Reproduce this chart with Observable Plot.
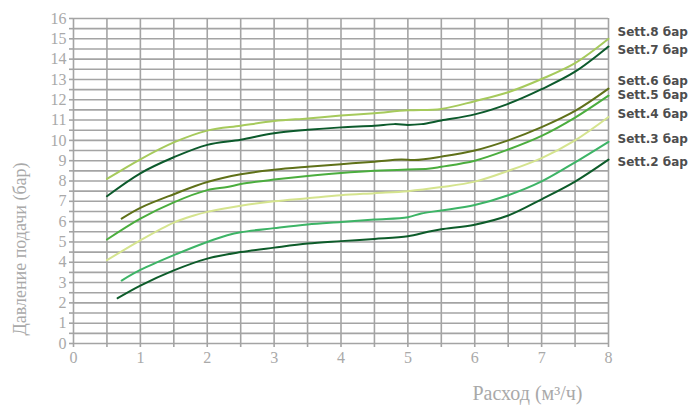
<!DOCTYPE html>
<html>
<head>
<meta charset="utf-8">
<script src="https://cdn.jsdelivr.net/npm/d3@7"></script>
<script src="https://cdn.jsdelivr.net/npm/@observablehq/plot@0.6"></script>
<style>
  html, body { margin: 0; padding: 0; background: #fff; }
</style>
</head>
<body>
<div id="chart"></div>
<script>
// ---- Data ----
const seriesNames = ["Sett.8 бар", "Sett.7 бар", "Sett.6 бар", "Sett.5 бар", "Sett.4 бар", "Sett.3 бар", "Sett.2 бар"];
const seriesColors = ["#a6ca5c", "#0c5a2c", "#5f7119", "#4bad3e", "#d5e48e", "#3db466", "#0d5c2a"];

const sett8X = [0.5, 1, 1.5, 2, 2.5, 3, 3.5, 4, 4.5, 5, 5.5, 6, 6.5, 7, 7.5, 8];
const sett8Y = [8.1, 9.07, 9.9, 10.48, 10.72, 10.95, 11.08, 11.22, 11.34, 11.48, 11.55, 11.93, 12.37, 13.02, 13.8, 15.0];

const sett7X = [0.5, 1, 1.5, 2, 2.5, 3, 3.5, 4, 4.5, 4.8, 5.0, 5.2, 5.5, 6, 6.5, 7, 7.5, 8];
const sett7Y = [7.25, 8.38, 9.17, 9.78, 10.03, 10.35, 10.52, 10.64, 10.72, 10.8, 10.76, 10.8, 10.98, 11.28, 11.8, 12.52, 13.38, 14.62];

const sett6X = [0.72, 1, 1.5, 2, 2.5, 3, 3.5, 4, 4.5, 4.9, 5.1, 5.5, 6, 6.5, 7, 7.5, 8];
const sett6Y = [6.15, 6.68, 7.35, 7.95, 8.33, 8.55, 8.7, 8.83, 8.95, 9.06, 9.03, 9.2, 9.5, 10.0, 10.65, 11.45, 12.55];

const sett5X = [0.5, 1, 1.5, 2, 2.3, 2.5, 3, 3.5, 4, 4.5, 5, 5.3, 5.5, 6, 6.5, 7, 7.5, 8];
const sett5Y = [5.12, 6.15, 6.95, 7.55, 7.7, 7.85, 8.07, 8.25, 8.39, 8.5, 8.57, 8.6, 8.7, 9.0, 9.55, 10.22, 11.12, 12.2];

const sett4X = [0.5, 1, 1.5, 1.8, 2, 2.5, 3, 3.5, 4, 4.5, 5, 5.5, 6, 6.5, 7, 7.5, 8];
const sett4Y = [4.1, 5.08, 5.95, 6.3, 6.48, 6.78, 7.0, 7.15, 7.3, 7.4, 7.5, 7.7, 7.97, 8.5, 9.13, 10.0, 11.15];

const sett3X = [0.72, 1, 1.5, 2, 2.3, 2.5, 3, 3.5, 4, 4.5, 5, 5.2, 5.5, 6, 6.5, 7, 7.5, 8];
const sett3Y = [3.1, 3.62, 4.35, 5.0, 5.33, 5.48, 5.68, 5.86, 5.98, 6.1, 6.22, 6.4, 6.55, 6.82, 7.3, 7.98, 8.92, 9.93];

const sett2X = [0.66, 1, 1.5, 2, 2.5, 3, 3.5, 4, 4.5, 5, 5.3, 5.5, 6, 6.5, 7, 7.5, 8];
const sett2Y = [2.23, 2.85, 3.6, 4.18, 4.5, 4.72, 4.92, 5.04, 5.15, 5.28, 5.5, 5.62, 5.85, 6.3, 7.1, 7.97, 9.05];

const seriesX = [sett8X, sett7X, sett6X, sett5X, sett4X, sett3X, sett2X];
const seriesY = [sett8Y, sett7Y, sett6Y, sett5Y, sett4Y, sett3Y, sett2Y];

// right-hand label levels (in bar)
const labelLevels = [15.33, 14.46, 12.91, 12.21, 11.27, 10.08, 8.93];

const xTicks = [0, 0.5, 1, 1.5, 2, 2.5, 3, 3.5, 4, 4.5, 5, 5.5, 6, 6.5, 7, 7.5, 8];
const yTicks = [0, 0.5, 1, 1.5, 2, 2.5, 3, 3.5, 4, 4.5, 5, 5.5, 6, 6.5, 7, 7.5, 8, 8.5, 9, 9.5, 10, 10.5, 11, 11.5, 12, 12.5, 13, 13.5, 14, 14.5, 15, 15.5, 16];

const yTitle = "Давление подачи (бар)";
const xTitle = "Расход (м³/ч)";

// ---- Build table ----
const rows = [];
seriesNames.forEach((name, i) => {
  seriesX[i].forEach((x, j) => rows.push({ series: name, x, y: seriesY[i][j] }));
});
const labels = seriesNames.map((name, i) => ({ series: name, x: 8, y: labelLevels[i] }));

const gridColor = "#a4a4a4";
const textGray = "#a9a9a9";

const chart = Plot.plot({
  width: 689,
  height: 409,
  marginLeft: 73,
  marginRight: 81,
  marginTop: 18,
  marginBottom: 66,
  style: { fontFamily: "'Liberation Serif', serif", fontSize: "16px", color: textGray, background: "#fff", overflow: "visible" },
  x: { domain: [0, 8] },
  y: { domain: [0, 16] },
  color: { domain: seriesNames, range: seriesColors },
  marks: [
    Plot.gridX(xTicks, { stroke: gridColor, strokeOpacity: 1, strokeWidth: 1.6 }),
    Plot.gridY(yTicks, { stroke: gridColor, strokeOpacity: 1, strokeWidth: 1.6 }),
    Plot.axisX(xTicks, {
      tickSize: 4, tickPadding: 4, stroke: gridColor, strokeWidth: 1.6,
      tickFormat: d => Number.isInteger(d) ? String(d) : "",
      fill: textGray, fontSize: 16, label: null
    }),
    Plot.axisY(yTicks, {
      tickSize: 4, tickPadding: 3, stroke: gridColor, strokeWidth: 1.6,
      tickFormat: d => Number.isInteger(d) ? String(d) : "",
      fill: textGray, fontSize: 16, label: null
    }),
    Plot.line(rows, { x: "x", y: "y", z: "series", stroke: "series", strokeWidth: 2, curve: "catmull-rom" }),
    Plot.text(labels, {
      x: "x", y: "y", text: "series", dx: 9, textAnchor: "start",
      fill: "#4d4d4d", fontWeight: "bold", fontSize: 12,
      fontFamily: "'DejaVu Sans', sans-serif"
    }),
    Plot.text([yTitle], {
      frameAnchor: "left", text: d => d, rotate: -90, dx: -53, dy: 68,
      fill: textGray, fontSize: 18, textAnchor: "middle"
    }),
    Plot.text([xTitle], {
      frameAnchor: "bottom-right", text: d => d, dx: -81, dy: 56,
      fill: textGray, fontSize: 20, textAnchor: "middle"
    })
  ]
});
document.getElementById("chart").appendChild(chart);
</script>
</body>
</html>
